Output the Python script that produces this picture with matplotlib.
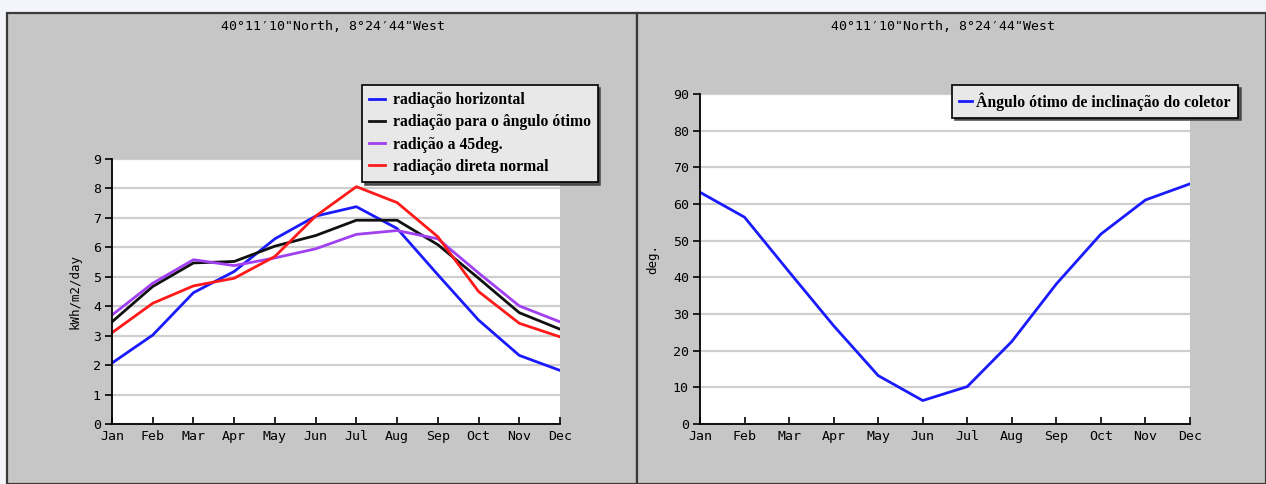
import matplotlib
matplotlib.use("Agg")
import matplotlib.pyplot as plt
from matplotlib.patches import Rectangle

months = ["Jan", "Feb", "Mar", "Apr", "May", "Jun", "Jul", "Aug", "Sep", "Oct", "Nov", "Dec"]
rad_horizontal = [2.07, 3.02, 4.46, 5.18, 6.29, 7.06, 7.38, 6.64, 5.07, 3.53, 2.33, 1.82]
rad_optimal = [3.47, 4.67, 5.47, 5.52, 6.04, 6.40, 6.92, 6.92, 6.09, 4.95, 3.78, 3.22]
rad_45 = [3.70, 4.78, 5.58, 5.38, 5.64, 5.95, 6.44, 6.57, 6.29, 5.13, 4.01, 3.47]
rad_direct = [3.10, 4.10, 4.69, 4.95, 5.69, 7.06, 8.06, 7.52, 6.36, 4.50, 3.42, 2.96]
opt_angle = [63.2, 56.4, 41.5, 26.8, 13.2, 6.4, 10.2, 22.5, 38.2, 51.8, 61.1, 65.5]

title = "40°11′10\"North, 8°24′44\"West"
W, H = 1266, 484
fig = plt.figure(figsize=(W / 100, H / 100), dpi=100)
fig.patch.set_facecolor("#f4f5fb")

def fx(px):
    return px / W

def fy(py):
    return 1 - py / H

panel_col = "#c6c6c6"
for x0, x1 in [(7, 637), (637, 1266)]:
    fig.patches.append(Rectangle((fx(x0), 0), fx(x1 - x0), fy(13), transform=fig.transFigure,
                                 facecolor=panel_col, edgecolor="#3a3a3a", linewidth=1.6, zorder=-5))

mono = "DejaVu Sans Mono"
legfont = {"family": "Liberation Serif", "weight": "bold", "size": 11.3}

def style(ax, ymax, step):
    ax.set_facecolor("white")
    x = list(range(len(months)))
    ax.set_xlim(0, len(months) - 1)
    ax.set_ylim(0, ymax)
    ax.set_xticks(x)
    ax.set_xticklabels(months, fontfamily=mono, fontsize=9.5)
    ax.set_yticks(range(0, ymax + 1, step))
    ax.set_yticklabels([str(v) for v in range(0, ymax + 1, step)], fontfamily=mono, fontsize=9.5)
    ax.tick_params(axis="x", direction="in", length=5, width=1.2, pad=4)
    ax.tick_params(axis="y", direction="out", length=5, width=1.2, pad=3)
    for s in ["top", "right"]:
        ax.spines[s].set_visible(False)
    for s in ["left", "bottom"]:
        ax.spines[s].set_linewidth(1.3)
        ax.spines[s].set_color("black")
    ax.yaxis.grid(True, color="#cfcfcf", linewidth=1.6)
    ax.set_axisbelow(True)

# left chart
ax1 = fig.add_axes([fx(112), fy(424), fx(560 - 112), (424 - 159) / H])
style(ax1, 9, 1)
x = list(range(len(months)))
ax1.plot(x, rad_horizontal, color="#1a1aff", lw=2, label="radiação horizontal")
ax1.plot(x, rad_optimal, color="#111111", lw=2, label="radiação para o ângulo ótimo")
ax1.plot(x, rad_45, color="#a040f0", lw=2, label="radição a 45deg.")
ax1.plot(x, rad_direct, color="#ff1a1a", lw=2, label="radiação direta normal")
ax1.set_ylabel("kWh/m2/day", fontfamily=mono, fontsize=9, labelpad=8)
fig.text(fx(333), fy(27), title, ha="center", va="center", fontfamily=mono, fontsize=9.5)
leg1 = ax1.legend(loc="upper left", bbox_to_anchor=(fx(362), fy(85)), bbox_transform=fig.transFigure,
                  prop=legfont, fancybox=False, shadow={"color": "#444444", "alpha": 0.9},
                  edgecolor="black", facecolor="#e8e8e8", framealpha=1, handlelength=1.0,
                  handletextpad=0.5, borderpad=0.45, labelspacing=0.4, borderaxespad=0)
leg1.get_frame().set_linewidth(1.2)

# right chart
ax2 = fig.add_axes([fx(700), fy(424), fx(1190 - 700), (424 - 94) / H])
style(ax2, 90, 10)
ax2.plot(x, opt_angle, color="#1a1aff", lw=2, label="Ângulo ótimo de inclinação do coletor")
ax2.set_ylabel("deg.", fontfamily=mono, fontsize=9, labelpad=10)
fig.text(fx(943), fy(27), title, ha="center", va="center", fontfamily=mono, fontsize=9.5)
leg2 = ax2.legend(loc="upper left", bbox_to_anchor=(fx(952), fy(85)), bbox_transform=fig.transFigure,
                  prop=legfont, fancybox=False, shadow={"color": "#444444", "alpha": 0.9},
                  edgecolor="black", facecolor="#e8e8e8", framealpha=1, handlelength=0.8,
                  handletextpad=0.3, borderpad=0.45, borderaxespad=0)
leg2.get_frame().set_linewidth(1.2)

fig.savefig("out.png", dpi=100, facecolor=fig.get_facecolor())
